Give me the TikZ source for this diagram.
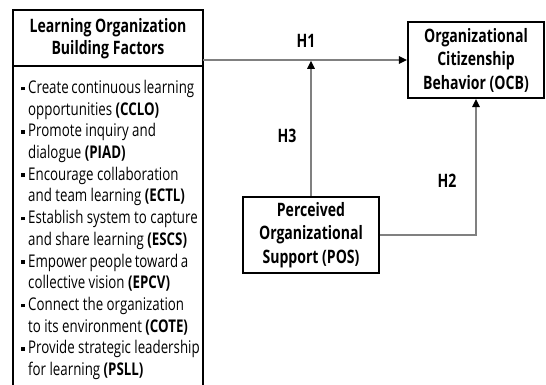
\documentclass[tikz,border=0pt]{standalone}
\usepackage{fontspec}
\setmainfont{Open Sans}[FakeStretch=0.76]
\usetikzlibrary{arrows.meta}
\newcommand\itm{\leavevmode\llap{\rule[3.2pt]{3.6pt}{3.6pt}\hspace{3.2pt}}}
\begin{document}
\begin{tikzpicture}[x=1pt,y=-1pt,
  frame/.style={draw=black, line width=2pt},
  box/.style={draw=black, line width=2.2pt, inner sep=0pt, align=center,
    font=\bfseries\fontsize{18.5}{23.5}\selectfont},
  title/.style={inner sep=0pt, align=center, font=\bfseries\fontsize{18.5}{22}\selectfont},
  hyp/.style={inner sep=0pt, font=\bfseries\fontsize{18.5}{20}\selectfont},
  link/.style={draw=black!50, line width=1.3pt,
    -{Triangle[length=8pt,width=7.5pt,color=black]}}]
\useasboundingbox (0,0) rectangle (546,385);
\clip (0,0) rectangle (546,385);

% left panel: open at the bottom
\node[inner sep=0pt, minimum width=190pt, minimum height=400pt] (lobf) at (108,210) {};
\draw[frame] (lobf.south west) -- (lobf.north west) -- (lobf.north east) -- (lobf.south east);
\node[title] (hdr) at (108,39) {Learning Organization\\Building Factors};
\draw[black, line width=2.8pt] (13,66) -- (203,66);

\node[anchor=base west, inner sep=0pt] (list) at (28,93.5) {\parbox[t]{176pt}{%
  \fontsize{17.5}{21.7}\selectfont\lineskiplimit=-20pt\raggedright\parindent=0pt
  \itm\makebox[166pt][s]{Create continuous learning}\\
  opportunities \textbf{(CCLO)}\\
  \itm Promote inquiry and\\
  dialogue \textbf{(PIAD)}\\
  \itm Encourage collaboration\\
  and team learning \textbf{(ECTL)}\\
  \itm Establish system to capture\\
  and share learning \textbf{(ESCS)}\\
  \itm\makebox[160pt][s]{Empower people toward a}\\
  collective vision \textbf{(EPCV)}\\
  \itm Connect the organization\\
  to its environment \textbf{(COTE)}\\
  \itm Provide strategic leadership\\
  for learning \textbf{(PSLL)}}};

% outcome and mediator boxes
\node[box, minimum width=136pt, minimum height=76pt] (ocb) at (476,60)
  {Organizational\\Citizenship\\Behavior (OCB)};
\node[box, minimum width=136pt, minimum height=76pt] (pos) at (311,235)
  {Perceived\\Organizational\\Support (POS)};

% hypothesised paths
\draw[link] (ocb.west -| lobf.east) -- (ocb.west);
\draw[link, shorten >=0.8pt] (pos.north) -- (pos.north |- ocb.west);
\draw[link] (pos.east) -| (ocb.south);

\node[hyp] (h1) at (306,41) {H1};
\node[hyp] (h3) at (287,136) {H3};
\node[hyp] (h2) at (447,181) {H2};
\end{tikzpicture}
\end{document}
